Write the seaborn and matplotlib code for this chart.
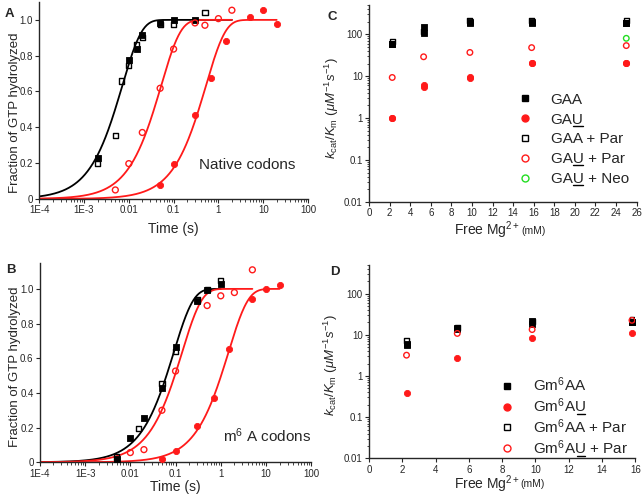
import numpy as np
import pandas as pd
import seaborn as sns
import matplotlib
matplotlib.use("Agg")
import matplotlib.pyplot as plt
from matplotlib.lines import Line2D
from matplotlib.ticker import LogLocator, NullFormatter

# ---- panel A: native codons (time course) ----
a_gaa_t = [0.002, 0.01, 0.015, 0.02, 0.05, 0.1, 0.3]
a_gaa_y = [0.226, 0.776, 0.84, 0.917, 0.98, 1.0, 1.0]
a_gaap_t = [0.002, 0.005, 0.007, 0.01, 0.015, 0.02, 0.05, 0.1, 0.5]
a_gaap_y = [0.197, 0.352, 0.659, 0.744, 0.863, 0.90, 0.975, 0.972, 1.04]
a_gaup_t = [0.005, 0.01, 0.02, 0.05, 0.1, 0.3, 0.5, 1.0, 2.0]
a_gaup_y = [0.05, 0.197, 0.371, 0.618, 0.837, 0.983, 0.97, 1.007, 1.054]
a_gau_t = [0.05, 0.1, 0.3, 0.7, 1.5, 5.0, 10.0, 20.0]
a_gau_y = [0.08, 0.193, 0.466, 0.673, 0.881, 1.015, 1.054, 0.976]
# fitted rate constants (s^-1) and end of each fit line
a_k = {"black": 140.0, "red_open": 19.0, "red": 1.9}
a_tend = {"black": 2.0, "red_open": 2.0, "red": 20.0}

# ---- panel B: m6A codons ----
b_gaa_t = [0.005, 0.01, 0.02, 0.05, 0.1, 0.3, 0.5, 1.0]
b_gaa_y = [0.017, 0.14, 0.258, 0.426, 0.667, 0.933, 0.994, 1.03]
b_gaap_t = [0.005, 0.015, 0.05, 0.1, 0.3, 0.5, 1.0]
b_gaap_y = [0.03, 0.195, 0.455, 0.638, 0.936, 0.998, 1.048]
b_gaup_t = [0.01, 0.02, 0.05, 0.1, 0.5, 1.0, 2.0, 5.0]
b_gaup_y = [0.056, 0.073, 0.30, 0.526, 0.904, 0.96, 0.979, 1.11]
b_gau_t = [0.05, 0.1, 0.3, 0.7, 1.5, 5.0, 10.0, 20.0]
b_gau_y = [0.021, 0.066, 0.208, 0.372, 0.651, 0.944, 0.998, 1.02]
b_k = {"black": 11.0, "red_open": 7.2, "red": 0.68}
b_tend = {"black": 1.0, "red_open": 5.0, "red": 20.0}

# ---- panel C: kcat/Km vs free Mg2+ ----
c_mg = [2.25, 5.3, 9.8, 15.8, 25.0]
c_gaa = [60, 145, 190, 190, 183]
c_gaa_rep = [60, 110, 195, 195, 190]
c_gaap = [67, 115, 212, 212, 212]
c_gau = [1.0, 5.6, 9.3, 20.5, 20.5]
c_gau_rep = [1.0, 6.3, 9.0, 20.5, 20.5]
c_gaup = [9.3, 29, 36.8, 48, 53.6]
c_neo_mg = [25.0]
c_neo = [80]

# ---- panel D: Gm6A codons ----
d_mg = [2.25, 5.3, 9.8, 15.8]
d_gaa = [5.5, 14.4, 18.0, 20.0]
d_gaa_rep = [6.0, 14.0, 21.7, 21.0]
d_gaap = [7.3, 15.0, 20.9, 23.7]
d_gau = [0.38, 2.75, 8.3, 11.0]
d_gaup = [3.2, 10.8, 13.4, 22.5]

RED = "#ff1a1a"
GREEN = "#22dd22"

sns.set_style("ticks")
plt.rcParams["font.family"] = ["Liberation Sans", "DejaVu Sans"]
plt.rcParams["mathtext.fontset"] = "custom"
plt.rcParams["mathtext.rm"] = "Liberation Sans"
plt.rcParams["mathtext.it"] = "Liberation Sans:italic"
plt.rcParams["xtick.labelsize"] = 7
plt.rcParams["ytick.labelsize"] = 7
plt.rcParams["axes.linewidth"] = 1.0

fig = plt.figure(figsize=(6.43, 4.96), dpi=100)
axA = fig.add_axes([0.061, 0.599, 0.418, 0.397])
axB = fig.add_axes([0.062, 0.068, 0.422, 0.402])
axC = fig.add_axes([0.574, 0.593, 0.416, 0.397])
axD = fig.add_axes([0.574, 0.076, 0.414, 0.390])


def pts(ax, x, y, color, marker, filled, size):
    df = pd.DataFrame({"x": x, "y": y})
    if filled:
        sns.scatterplot(data=df, x="x", y="y", ax=ax, marker=marker, s=size,
                        color=color, edgecolor=color, linewidth=0.6, zorder=3)
    else:
        sns.scatterplot(data=df, x="x", y="y", ax=ax, marker=marker, s=size,
                        facecolor="none", edgecolor=color, linewidth=1.0, zorder=4)


def fit_line(ax, k, tend, color):
    t = np.logspace(-4, np.log10(tend), 300)
    df = pd.DataFrame({"t": t, "f": 1 - np.exp(-k * t)})
    sns.lineplot(data=df, x="t", y="f", ax=ax, color=color, lw=1.3, zorder=2)


def time_axes(ax, top, xpad, ly):
    ax.set_xscale("log")
    ax.set_xlim(1e-4, 100)
    ax.set_ylim(0, top)
    ax.set_xticks([1e-4, 1e-3, 1e-2, 0.1, 1, 10, 100])
    ax.set_xticklabels(["1E-4", "1E-3", "0.01", "0.1", "1", "10", "100"])
    ax.xaxis.set_minor_locator(LogLocator(base=10, subs=np.arange(2, 10)))
    ax.xaxis.set_minor_formatter(NullFormatter())
    ax.set_yticks([0, 0.2, 0.4, 0.6, 0.8, 1.0])
    ax.set_yticklabels(["0", "0.2", "0.4", "0.6", "0.8", "1.0"])
    ax.set_xlabel("Time (s)", fontsize=10, labelpad=xpad)
    ax.set_ylabel("Fraction of GTP hydrolyzed", fontsize=9.5)
    ax.yaxis.set_label_coords(-0.068, ly)
    ax.tick_params(which="major", length=3, width=0.8, pad=1.5)
    ax.tick_params(which="minor", length=1.8, width=0.6)
    sns.despine(ax=ax)


# panel A
fit_line(axA, a_k["black"], a_tend["black"], "black")
fit_line(axA, a_k["red_open"], a_tend["red_open"], RED)
fit_line(axA, a_k["red"], a_tend["red"], RED)
pts(axA, a_gaa_t, a_gaa_y, "black", "s", True, 16)
pts(axA, a_gaap_t, a_gaap_y, "black", "s", False, 14)
pts(axA, a_gaup_t, a_gaup_y, RED, "o", False, 18)
pts(axA, a_gau_t, a_gau_y, RED, "o", True, 20)
time_axes(axA, 1.1, 5, 0.44)
axA.text(0.36, 0.19, "Native codons", fontsize=11, va="center")

# panel B
fit_line(axB, b_k["black"], b_tend["black"], "black")
fit_line(axB, b_k["red_open"], b_tend["red_open"], RED)
fit_line(axB, b_k["red"], b_tend["red"], RED)
pts(axB, b_gaa_t, b_gaa_y, "black", "s", True, 16)
pts(axB, b_gaap_t, b_gaap_y, "black", "s", False, 14)
pts(axB, b_gaup_t, b_gaup_y, RED, "o", False, 18)
pts(axB, b_gau_t, b_gau_y, RED, "o", True, 20)
time_axes(axB, 1.15, 1, 0.477)
axB.text(1.12, 0.156, r"m$^{6}$ A codons", fontsize=11, va="center")


def mg_axes(ax, xmax, joint, ytop, ymm, lx, ly):
    ax.set_yscale("log")
    ax.set_ylim(0.01, 500)
    ax.set_xlim(0, xmax)
    ax.set_xticks(np.arange(0, xmax + 1, 2))
    ax.set_yticks([0.01, 0.1, 1, 10, 100])
    ax.set_yticklabels(["0.01", "0.1", "1", "10", "100"])
    ax.yaxis.set_minor_locator(LogLocator(base=10, subs=np.arange(2, 10)))
    ax.yaxis.set_minor_formatter(NullFormatter())
    ax.set_xlabel("")
    ax.text(joint, ytop, r"Free Mg$^{2+}$", fontsize=10, ha="right", va="top",
            transform=ax.transAxes)
    ax.text(joint + 0.002, ymm, "(mM)", fontsize=7.5, ha="left", va="top",
            transform=ax.transAxes)
    ax.set_ylabel(r"$k_{\mathrm{cat}}/K_{\mathrm{m}}$ ($\mu M^{-1}s^{-1}$)",
                  fontsize=9.5)
    ax.yaxis.set_label_coords(lx, ly)
    ax.tick_params(which="major", length=3, width=0.8, pad=1.5)
    ax.tick_params(which="minor", length=1.8, width=0.6)
    sns.despine(ax=ax)


def handle(color, marker, filled):
    return Line2D([], [], ls="none", marker=marker, markersize=5,
                  markerfacecolor=color if filled else "none",
                  markeredgecolor=color, markeredgewidth=1.0)


# panel C
pts(axC, c_mg, c_gaa, "black", "s", True, 16)
pts(axC, c_mg, c_gaa_rep, "black", "s", True, 16)
pts(axC, c_mg, c_gaap, "black", "s", False, 12)
pts(axC, c_mg, c_gau, RED, "o", True, 20)
pts(axC, c_mg, c_gau_rep, RED, "o", True, 20)
pts(axC, c_mg, c_gaup, RED, "o", False, 16)
pts(axC, c_neo_mg, c_neo, GREEN, "o", False, 16)
mg_axes(axC, 26, 0.566, -0.088, -0.125, -0.104, 0.476)
legC = axC.legend([handle("black", "s", True), handle(RED, "o", True),
                   handle("black", "s", False), handle(RED, "o", False),
                   handle(GREEN, "o", False)],
                  ["GAA", "GAU", "GAA + Par", "GAU + Par", "GAU + Neo"],
                  frameon=False, fontsize=11, loc="upper left",
                  bbox_to_anchor=(0.53, 0.585), handletextpad=1.2,
                  labelspacing=0.38, handlelength=1.0, borderaxespad=0)

# panel D
pts(axD, d_mg, d_gaa, "black", "s", True, 16)
pts(axD, d_mg, d_gaa_rep, "black", "s", True, 16)
pts(axD, d_mg, d_gaap, "black", "s", False, 12)
pts(axD, d_mg, d_gau, RED, "o", True, 20)
pts(axD, d_mg, d_gaup, RED, "o", False, 16)
mg_axes(axD, 16, 0.568, -0.08, -0.106, -0.109, 0.48)
legD = axD.legend([handle("black", "s", True), handle(RED, "o", True),
                   handle("black", "s", False), handle(RED, "o", False)],
                  [r"Gm$^{6}$AA", r"Gm$^{6}$AU", r"Gm$^{6}$AA + Par",
                   r"Gm$^{6}$AU + Par"],
                  frameon=False, fontsize=11, loc="upper left",
                  bbox_to_anchor=(0.466, 0.46), handletextpad=1.2,
                  labelspacing=0.15, handlelength=1.0, borderaxespad=0)

for lab, x, y in [("A", 0.008, 0.972), ("B", 0.01, 0.456),
                  ("C", 0.51, 0.966), ("D", 0.513, 0.452)]:
    fig.text(x, y, lab, fontsize=9.5, fontweight="bold", va="center")

# underline the U of the near-cognate codons
fig.canvas.draw()
rend = fig.canvas.get_renderer()
inv = fig.transFigure.inverted()
for leg, prefix in [(legC, "GA"), (legD, "Gm$^{6}$A")]:
    for txt in leg.get_texts():
        s = txt.get_text()
        if not s.startswith(prefix + "U"):
            continue
        prop = txt.get_fontproperties()
        bb = txt.get_window_extent(rend)
        w0 = rend.get_text_width_height_descent(prefix, prop, ismath="$" in prefix)[0]
        w1 = rend.get_text_width_height_descent(prefix + "U", prop, ismath="$" in prefix)[0]
        d = rend.get_text_width_height_descent("lp", prop, ismath=False)[2]
        yb = bb.y0 + d - 2.0
        p0 = inv.transform((bb.x0 + w0 + 0.5, yb))
        p1 = inv.transform((bb.x0 + w1 - 0.5, yb))
        fig.add_artist(Line2D([p0[0], p1[0]], [p0[1], p1[1]],
                              transform=fig.transFigure, color="black", lw=1.0))

fig.savefig("out.png", dpi=100)
